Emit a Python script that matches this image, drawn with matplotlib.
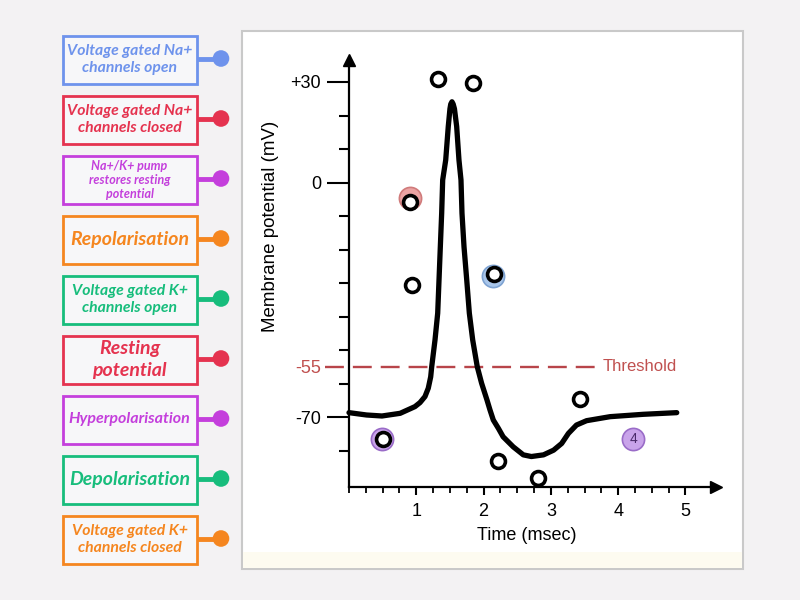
import matplotlib
matplotlib.use("Agg")
import matplotlib.pyplot as plt
from matplotlib.patches import Rectangle, Circle

# action potential trace (time in msec, potential in mV)
trace_t = [0.0, 0.26, 0.49, 0.76, 0.98, 1.055, 1.129, 1.178, 1.214, 1.229, 1.278,
           1.318, 1.357, 1.377, 1.392, 1.437, 1.475, 1.50, 1.512, 1.530, 1.548,
           1.567, 1.600, 1.634, 1.664, 1.679, 1.709, 1.749, 1.788, 1.838, 1.906,
           1.97, 2.05, 2.095, 2.144, 2.22, 2.29, 2.44, 2.59, 2.71, 2.89, 3.04,
           3.16, 3.26, 3.38, 3.53, 3.88, 4.37, 4.87]
trace_mv = [-68.7, -69.4, -69.7, -68.9, -66.9, -65.7, -63.9, -61.4, -58.0, -55.0, -47.0,
            -39.0, -19.2, -9.2, 0.75, 6.7, 16.7, 22.0, 23.4, 24.1, 23.4,
            22.0, 16.7, 6.7, 0.75, -9.2, -19.2, -29.0, -39.0, -47.0, -55.0,
            -59.9, -64.9, -67.9, -70.9, -73.4, -75.9, -78.9, -81.3, -81.8, -81.3, -79.9,
            -77.9, -74.9, -72.4, -71.1, -69.9, -69.2, -68.7]

# empty answer markers (black rings)
ring_t = [1.32, 1.84, 0.91, 0.94, 2.16, 3.43, 0.50, 2.21, 2.81]
ring_mv = [30.9, 29.7, -5.8, -30.6, -27.3, -64.6, -76.6, -83.1, -88.2]

# coloured number discs behind some rings
disc_t = [0.91, 2.14, 0.49, 4.22]
disc_mv = [-4.6, -27.9, -76.6, -76.6]
disc_fill = ['#eba3a3', '#a9c6ea', '#c9a3ea', '#c9a3ea']
disc_edge = ['#d07b7b', '#7ea3d2', '#9a6cc8', '#9a6cc8']

ytick_major = [30, 0, -55, -70]
ytick_labels = ['+30', '0', '-55', '-70']
ytick_minor = [20, 10, -10, -20, -30, -40, -50, -60, -80]
xtick_major = [1, 2, 3, 4, 5]
xtick_minor = [0, 0.25, 0.5, 0.75, 1.25, 1.5, 1.75, 2.25, 2.5, 2.75, 3.25, 3.5, 3.75,
               4.25, 4.5, 4.75]
threshold = -55

# answer cards on the left
cards = ['Voltage gated Na+\nchannels open',
         'Voltage gated Na+\nchannels closed',
         'Na+/K+ pump\nrestores resting\npotential',
         'Repolarisation',
         'Voltage gated K+\nchannels open',
         'Resting\npotential',
         'Hyperpolarisation',
         'Depolarisation',
         'Voltage gated K+\nchannels closed']
card_colors = ['#6e93ec', '#e5334f', '#c43fdc', '#f5861f', '#17bd7c',
               '#e5334f', '#c43fdc', '#17bd7c', '#f5861f']
card_sizes = [11.3, 11.3, 9, 14, 11.3, 14, 11.5, 14, 11.3]

fig = plt.figure(figsize=(8, 6), dpi=100)
fig.patch.set_facecolor('#f3f2f3')

# background layer in pixel coordinates
bg = fig.add_axes([0, 0, 1, 1])
bg.set_xlim(0, 800)
bg.set_ylim(600, 0)
bg.axis('off')
bg.add_patch(Rectangle((242, 31), 501, 538, facecolor='white', edgecolor='#c9c9c9', lw=1.5))
bg.add_patch(Rectangle((243, 552), 499, 16, facecolor='#fdfbf0', edgecolor='none'))

for i, (txt, col, fs) in enumerate(zip(cards, card_colors, card_sizes)):
    top = 35.5 + i * 60
    bg.add_patch(Rectangle((62.5, top), 134, 48, facecolor='#f7f7f9', edgecolor=col, lw=2))
    cy = top + 24
    bg.plot([196.5, 221], [cy - 1, cy - 1], color=col, lw=3.5, solid_capstyle='butt')
    bg.add_patch(Circle((221, cy - 1), 8.3, facecolor=col, edgecolor='none'))
    bg.text(129.5, cy, txt, ha='center', va='center', color=col, fontsize=fs,
            family=['Lato', 'DejaVu Sans'], style='italic', weight='bold',
            linespacing=1.35 if fs > 10 else 1.2)

# chart axes
X0, PXMS, Y30, PXMV = 349, 67.3, 82, 3.35
ax = fig.add_axes([300 / 800, 1 - 500 / 600, 440 / 800, 450 / 600])
ax.set_xlim((300 - X0) / PXMS, (740 - X0) / PXMS)
ax.set_ylim(30 - (500 - Y30) / PXMV, 30 - (50 - Y30) / PXMV)
ax.patch.set_alpha(0)
base = -91
for s in ['top', 'right']:
    ax.spines[s].set_visible(False)
ax.spines['left'].set_position(('data', 0))
ax.spines['bottom'].set_position(('data', base))
ax.spines['left'].set_bounds(base, 35)
ax.spines['bottom'].set_bounds(0, 5.35)
ax.spines['left'].set_linewidth(1.6)
ax.spines['bottom'].set_linewidth(1.6)
ax.plot(5.45, base, marker='>', color='black', ms=8, clip_on=False)
ax.plot(0, 36.5, marker='^', color='black', ms=8, clip_on=False)

lab_font = ['Liberation Sans', 'DejaVu Sans']
ax.set_yticks(ytick_major)
ax.set_yticklabels(ytick_labels, family=lab_font, fontsize=13)
ax.set_yticks(ytick_minor, minor=True)
ax.tick_params(axis='y', which='major', length=16, width=1.5, pad=4)
ax.tick_params(axis='y', which='minor', length=7.5, width=1.5)
ax.set_xticks(xtick_major)
ax.set_xticklabels([str(v) for v in xtick_major], family=lab_font, fontsize=13)
ax.set_xticks(xtick_minor, minor=True)
ax.tick_params(axis='x', which='major', length=6, width=1.5, pad=5)
ax.tick_params(axis='x', which='minor', length=4, width=1.3)
ax.yaxis.get_major_ticks()[2].tick1line.set_visible(False)
ax.get_yticklabels()[2].set_color('#c0504f')

ax.set_xlabel('Time (msec)', family=lab_font, fontsize=13)
ax.xaxis.set_label_coords((527 - 300) / 440, 1 - (527 - 50) / 450)
ax.set_ylabel('Membrane potential (mV)', family=lab_font, fontsize=13.5)
ax.yaxis.set_label_coords((279 - 300) / 440, 1 - (226 - 50) / 450)

# threshold
ax.plot([-0.36, 3.70], [threshold, threshold], color='#b8454a', lw=1.7,
        dashes=(8, 3.8), clip_on=False)
ax.text(3.77, threshold, 'Threshold', color='#c0504f', fontsize=12,
        family=lab_font, va='center', ha='left')

ax.plot(trace_t, trace_mv, color='black', lw=3.8, solid_capstyle='round',
        solid_joinstyle='round', zorder=3)

for t, v, fc, ec in zip(disc_t, disc_mv, disc_fill, disc_edge):
    ax.plot(t, v, marker='o', ms=16, mfc=fc, mec=ec, mew=1.2, zorder=4)
ax.text(disc_t[3], disc_mv[3], '4', ha='center', va='center', fontsize=10,
        color='#4a2a6a', family=lab_font, zorder=5)

ax.plot(ring_t, ring_mv, ls='none', marker='o', ms=10, mfc='white', mec='black',
        mew=2.6, zorder=6)

fig.savefig('out.png', dpi=100)
